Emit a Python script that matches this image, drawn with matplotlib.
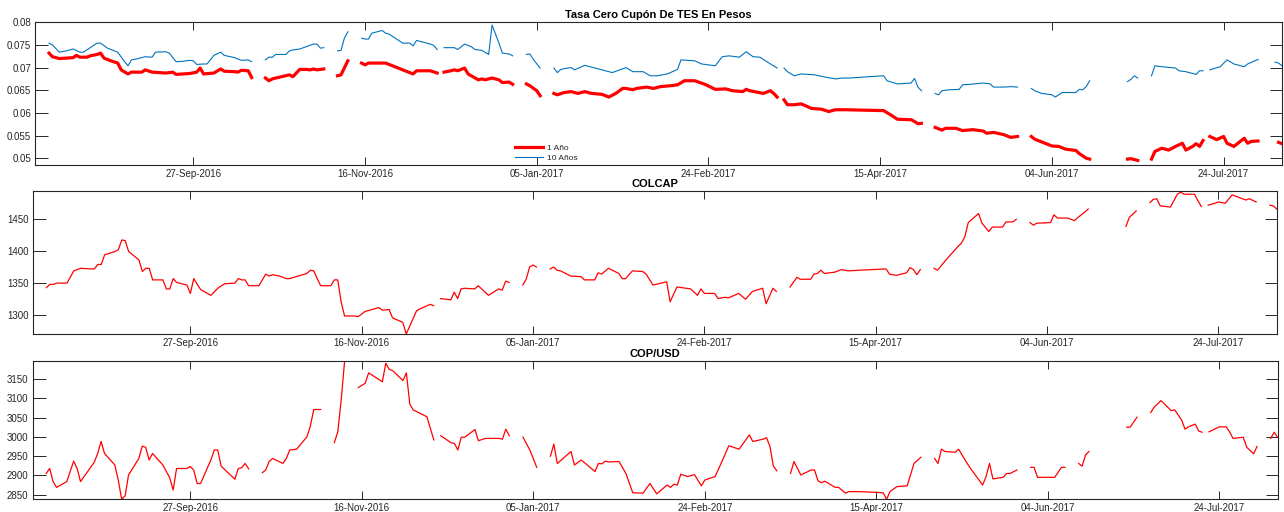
import datetime
import numpy as np
import matplotlib
matplotlib.use('Agg')
import matplotlib.pyplot as plt

nan = np.nan
start_date = '2016-08-12'
end_offset = 363

# ---------------- data (day offsets from start_date, NaN = gap) ----------------
tes10_days = [4,5,7,9,11,13,14,16,18,19,21,23,24,26,27,28,30,32,34,35,38,39,41,43,45,46,47,49,50,52,54,55,58,60,62,63,
              65,
              67,68,69,70,73,74,75,77,81,82,83,84,
              86,
              88,89,90,91,
              93,
              95,96,97,98,99,101,102,103,107,109,110,111,115,116,117,
              118,
              119,122,123,125,127,128,130,132,133,135,136,138,139,
              141,
              143,144,145,147,
              149,
              151,152,153,155,156,157,160,163,168,172,174,177,179,181,184,187,188,192,194,198,200,202,205,207,209,211,213,216,
              217,
              218,219,221,223,227,230,233,235,237,247,248,251,255,256,257,258,
              260,
              262,263,264,266,269,270,272,276,278,279,282,284,286,
              288,
              290,291,293,296,297,299,303,304,305,306,307,
              312,
              318,319,320,321,
              323,
              325,326,328,332,333,335,338,339,340,
              341,
              342,345,347,349,350,352,353,356,
              358,
              361,362,363]
tes10_vals = [0.0754,0.0750,0.0734,0.0737,0.0741,0.0734,0.0734,0.0744,0.0754,0.0754,0.0743,0.0737,0.0734,0.0713,0.0704,0.0717,0.0720,0.0724,0.0723,0.0734,0.0735,0.0732,0.0713,0.0714,0.0716,0.0715,0.0707,0.0708,0.0708,0.0727,0.0734,0.0727,0.0722,0.0716,0.0717,0.0713,
              nan,
              0.0717,0.0723,0.0723,0.0729,0.0729,0.0737,0.0739,0.0741,0.0752,0.0752,0.0743,0.0744,
              nan,
              0.0737,0.0738,0.0765,0.0779,
              nan,
              0.0765,0.0763,0.0763,0.0776,0.0778,0.0782,0.0776,0.0774,0.0754,0.0754,0.0748,0.0760,0.0752,0.0749,0.0740,
              nan,
              0.0744,0.0744,0.0740,0.0752,0.0746,0.0740,0.0738,0.0729,0.0794,0.0754,0.0732,0.0730,0.0726,
              nan,
              0.0729,0.0730,0.0718,0.0699,
              nan,
              0.0699,0.0689,0.0696,0.0699,0.0700,0.0695,0.0705,0.0699,0.0689,0.0700,0.0691,0.0691,0.0682,0.0682,0.0686,0.0696,0.0717,0.0715,0.0708,0.0704,0.0724,0.0726,0.0723,0.0735,0.0724,0.0723,0.0713,0.0699,
              nan,
              0.0699,0.0691,0.0682,0.0686,0.0684,0.0679,0.0675,0.0677,0.0677,0.0682,0.0671,0.0664,0.0666,0.0676,0.0657,0.0649,
              nan,
              0.0643,0.0640,0.0649,0.0651,0.0652,0.0662,0.0663,0.0666,0.0664,0.0657,0.0657,0.0658,0.0657,
              nan,
              0.0654,0.0649,0.0643,0.0640,0.0635,0.0645,0.0645,0.0652,0.0651,0.0658,0.0671,
              nan,
              0.0669,0.0674,0.0682,0.0677,
              nan,
              0.0682,0.0704,0.0702,0.0699,0.0693,0.0691,0.0685,0.0693,0.0693,
              nan,
              0.0695,0.0702,0.0717,0.0708,0.0706,0.0702,0.0708,0.0718,
              nan,
              0.0712,0.0710,0.0704]

tes1_days = [4,5,7,9,11,12,13,15,16,18,19,20,22,24,25,27,28,31,32,34,38,40,41,43,45,47,48,49,52,54,55,58,59,60,62,63,
             65,
             67,68,69,70,74,75,77,79,80,81,82,84,
             86,
             88,89,91,
             93,
             95,96,97,102,104,110,111,115,117,
             118,
             119,121,122,123,125,126,129,130,131,133,135,136,138,139,
             141,
             143,144,146,147,
             149,
             151,152,154,156,158,160,162,165,167,169,171,172,174,175,178,180,182,185,187,189,192,195,198,201,203,206,207,208,212,214,215,216,
             217,
             218,219,221,223,226,229,231,233,236,247,249,251,255,256,257,258,
             260,
             262,264,265,268,270,273,276,277,279,282,284,286,
             288,
             290,291,294,296,298,300,303,304,306,307,
             312,
             318,319,321,
             323,
             325,326,328,330,332,334,335,337,338,339,340,
             341,
             342,344,346,347,349,352,353,354,356,
             358,
             362,363]
tes1_vals = [0.0732,0.0724,0.0720,0.0721,0.0722,0.0727,0.0723,0.0723,0.0726,0.0729,0.0732,0.0721,0.0715,0.0710,0.0695,0.0686,0.0690,0.0690,0.0695,0.0690,0.0688,0.0690,0.0685,0.0686,0.0687,0.0690,0.0699,0.0686,0.0688,0.0697,0.0692,0.0691,0.0690,0.0694,0.0693,0.0678,
             nan,
             0.0677,0.0671,0.0675,0.0677,0.0684,0.0680,0.0696,0.0696,0.0695,0.0697,0.0695,0.0697,
             nan,
             0.0682,0.0684,0.0715,
             nan,
             0.0710,0.0706,0.0710,0.0710,0.0704,0.0686,0.0693,0.0693,0.0688,
             nan,
             0.0690,0.0693,0.0695,0.0693,0.0699,0.0686,0.0673,0.0675,0.0673,0.0677,0.0673,0.0667,0.0668,0.0663,
             nan,
             0.0664,0.0660,0.0649,0.0638,
             nan,
             0.0643,0.0640,0.0645,0.0647,0.0643,0.0647,0.0643,0.0641,0.0635,0.0643,0.0654,0.0654,0.0651,0.0654,0.0657,0.0654,0.0658,0.0660,0.0662,0.0671,0.0671,0.0663,0.0652,0.0653,0.0649,0.0647,0.0652,0.0649,0.0643,0.0649,0.0643,0.0635,
             nan,
             0.0629,0.0618,0.0618,0.0620,0.0610,0.0608,0.0603,0.0607,0.0607,0.0605,0.0596,0.0586,0.0585,0.0581,0.0576,0.0577,
             nan,
             0.0568,0.0562,0.0566,0.0566,0.0561,0.0563,0.0560,0.0555,0.0557,0.0552,0.0546,0.0548,
             nan,
             0.0548,0.0542,0.0533,0.0527,0.0526,0.0520,0.0517,0.0510,0.0500,0.0498,
             nan,
             0.0498,0.0499,0.0495,
             nan,
             0.0498,0.0515,0.0522,0.0518,0.0526,0.0533,0.0518,0.0526,0.0532,0.0526,0.0539,
             nan,
             0.0548,0.0541,0.0548,0.0533,0.0526,0.0544,0.0533,0.0537,0.0538,
             nan,
             0.0535,0.0532]

colcap_days = [4,5,6,7,10,12,14,17,18,19,20,21,24,25,26,27,28,31,32,33,34,35,38,39,40,41,42,45,46,47,49,52,54,56,59,60,61,62,63,66,68,69,70,72,74,75,80,81,82,84,87,88,89,90,91,94,95,97,101,102,104,105,108,109,112,113,116,117,
               118,
               119,122,123,124,125,126,129,130,131,133,136,137,138,139,
               141,
               143,144,145,146,147,
               149,
               151,152,153,154,157,160,161,164,165,166,168,171,172,173,175,178,179,181,185,186,188,192,194,195,196,199,200,202,203,206,208,210,213,214,216,217,
               219,
               221,223,224,227,228,229,230,231,234,236,238,241,249,250,252,255,256,257,258,259,
               261,
               263,264,267,270,271,272,273,276,277,279,280,283,284,286,287,
               289,
               291,292,293,297,298,299,302,304,305,306,308,
               313,
               319,320,322,
               324,
               326,327,328,329,332,334,335,336,339,340,341,
               342,
               343,345,346,348,350,352,354,355,357,
               359,
               361,362,363]
colcap_vals = [1343,1348,1348,1350,1350,1369,1373,1372,1372,1379,1379,1394,1399,1402,1417,1416,1399,1386,1368,1373,1373,1355,1355,1341,1341,1357,1351,1347,1334,1357,1340,1331,1342,1349,1350,1357,1355,1355,1346,1346,1364,1361,1363,1361,1357,1357,1365,1370,1369,1346,1346,1355,1355,1321,1299,1299,1298,1306,1312,1308,1309,1296,1289,1271,1307,1310,1317,1315,
               nan,
               1326,1324,1336,1326,1341,1342,1341,1346,1341,1331,1341,1339,1353,1351,
               nan,
               1347,1356,1375,1378,1375,
               nan,
               1372,1375,1370,1369,1361,1360,1355,1355,1366,1364,1373,1365,1357,1357,1369,1368,1364,1347,1352,1321,1344,1341,1331,1341,1334,1334,1326,1328,1327,1334,1325,1337,1342,1318,1342,1337,
               nan,
               1344,1359,1356,1356,1364,1365,1370,1365,1367,1371,1369,1370,1372,1364,1362,1366,1374,1371,1363,1371,
               nan,
               1373,1370,1389,1407,1412,1422,1444,1458,1443,1430,1437,1437,1445,1445,1449,
               nan,
               1444,1440,1443,1444,1456,1451,1451,1447,1452,1456,1465,
               nan,
               1438,1452,1462,
               nan,
               1475,1480,1481,1470,1468,1488,1491,1488,1488,1478,1469,
               nan,
               1471,1474,1476,1474,1487,1483,1479,1481,1476,
               nan,
               1471,1470,1465]

cop_days = [4,5,6,7,10,12,13,14,18,19,20,21,24,25,26,27,28,31,32,33,34,35,38,40,41,42,45,46,47,48,49,52,53,54,55,59,60,61,62,63,
            65,
            67,68,69,70,73,74,75,77,80,81,82,84,
            86,
            88,89,90,91,
            93,
            95,97,98,102,103,104,105,108,109,110,111,115,117,
            118,
            119,122,123,124,125,126,129,130,132,136,137,138,139,
            141,
            143,145,147,
            149,
            151,152,153,157,158,160,164,165,166,167,168,171,173,175,178,180,182,185,186,187,188,189,191,193,195,196,199,201,203,206,209,210,213,214,215,216,217,
            219,
            221,222,224,227,228,229,230,231,234,235,237,238,241,248,249,250,252,255,257,259,
            261,
            263,264,265,266,269,270,273,277,278,279,280,283,284,285,287,
            289,
            291,292,293,298,300,301,
            303,
            305,306,307,308,
            313,
            319,320,322,
            324,
            326,327,329,332,333,335,336,337,339,340,341,
            342,
            343,346,348,349,350,353,354,356,357,
            359,
            361,362,363]
cop_vals = [2905,2918,2884,2869,2884,2937,2918,2884,2934,2957,2988,2957,2927,2888,2838,2847,2901,2944,2976,2973,2940,2957,2927,2894,2862,2918,2918,2923,2914,2879,2879,2940,2966,2966,2924,2890,2918,2920,2931,2917,
            nan,
            2907,2914,2936,2944,2931,2944,2966,2968,3000,3028,3071,3071,
            nan,
            2985,3013,3096,3197,
            nan,
            3128,3139,3166,3143,3191,3175,3172,3146,3166,3085,3070,3052,2992,
            nan,
            3003,2985,2983,2966,2999,2999,3019,2990,2996,2996,2994,3020,3003,
            nan,
            2999,2966,2921,
            nan,
            2950,2981,2931,2962,2927,2940,2910,2931,2930,2937,2935,2936,2905,2855,2854,2879,2852,2875,2869,2877,2875,2903,2897,2902,2873,2888,2897,2936,2977,2968,3005,2988,2994,2998,2975,2924,2912,
            nan,
            2905,2936,2901,2914,2914,2886,2881,2885,2869,2869,2854,2858,2858,2855,2838,2858,2871,2873,2931,2947,
            nan,
            2944,2931,2968,2962,2960,2968,2924,2875,2897,2931,2891,2895,2905,2905,2914,
            nan,
            2921,2921,2895,2895,2921,2921,
            nan,
            2931,2924,2953,2962,
            nan,
            3025,3025,3051,
            nan,
            3063,3077,3094,3068,3070,3044,3020,3026,3033,3015,3012,
            nan,
            3013,3026,3026,3013,2996,2999,2973,2956,2975,
            nan,
            2996,3012,2999]

tick_labels = ['27-Sep-2016', '16-Nov-2016', '05-Jan-2017', '24-Feb-2017',
               '15-Apr-2017', '04-Jun-2017', '24-Jul-2017']
titles = ['Tasa Cero Cupón De TES En Pesos', 'COLCAP', 'COP/USD']
legend_labels = ['1 Año', '10 Años']

# ---------------- helpers ----------------
start = np.datetime64(start_date)

def to_dates(days):
    return start + np.array(days, dtype='timedelta64[D]')

tick_dates = [np.datetime64(datetime.datetime.strptime(t, '%d-%b-%Y').date()) for t in tick_labels]

plt.rcParams['font.family'] = ['Liberation Sans', 'DejaVu Sans']
W, H = 1284, 512
fig = plt.figure(figsize=(W / 100, H / 100), dpi=100)

def px_axes(left, right, top, bottom):
    return fig.add_axes([left / W, 1 - bottom / H, (right - left) / W, (bottom - top) / H])

ax1 = px_axes(35.3, 1282.0, 22.3, 165.0)
ax2 = px_axes(32.7, 1276.7, 191.0, 334.0)
ax3 = px_axes(32.5, 1277.6, 360.7, 499.3)

RED = '#ff0000'
BLUE = '#0072bd'
DARK = '#262626'

l1, = ax1.plot(to_dates(tes1_days), tes1_vals, color=RED, lw=2.3, solid_joinstyle='round')
l2, = ax1.plot(to_dates(tes10_days), tes10_vals, color=BLUE, lw=0.8)
ax2.plot(to_dates(colcap_days), colcap_vals, color=RED, lw=0.9)
ax3.plot(to_dates(cop_days), cop_vals, color=RED, lw=0.9)

ax1.set_ylim(0.0485, 0.08)
ax1.set_yticks([0.05, 0.055, 0.06, 0.065, 0.07, 0.075, 0.08])
ax1.set_yticklabels(['0.05', '0.055', '0.06', '0.065', '0.07', '0.075', '0.08'])
ax2.set_ylim(1271, 1493)
ax2.set_yticks([1300, 1350, 1400, 1450])
ax3.set_ylim(2838, 3197.6)
ax3.set_yticks([2850, 2900, 2950, 3000, 3050, 3100, 3150])

for ax, t in zip([ax1, ax2, ax3], titles):
    ax.set_xlim(start, start + np.timedelta64(end_offset, 'D'))
    ax.set_xticks(tick_dates)
    ax.set_xticklabels(tick_labels)
    ax.tick_params(axis='x', direction='in', length=6, width=0.7, top=True,
                   labelsize=7, colors=DARK, pad=3)
    ax.tick_params(axis='y', direction='in', length=9, width=0.7, right=True,
                   labelsize=7, colors=DARK, pad=3)
    for s in ax.spines.values():
        s.set_linewidth(0.8)
        s.set_color(DARK)
    ax.set_title(t, fontsize=8, fontweight='bold', pad=3, color='black')

leg = ax1.legend([l1, l2], legend_labels, loc='lower left',
                 bbox_to_anchor=((511 - 35.3) / (1282 - 35.3), -0.005),
                 frameon=False, fontsize=6, handlelength=3.3, handletextpad=0.5,
                 labelspacing=0.2, borderpad=0.0)
for txt in leg.get_texts():
    txt.set_color(DARK)

fig.savefig('out.png', dpi=100)
